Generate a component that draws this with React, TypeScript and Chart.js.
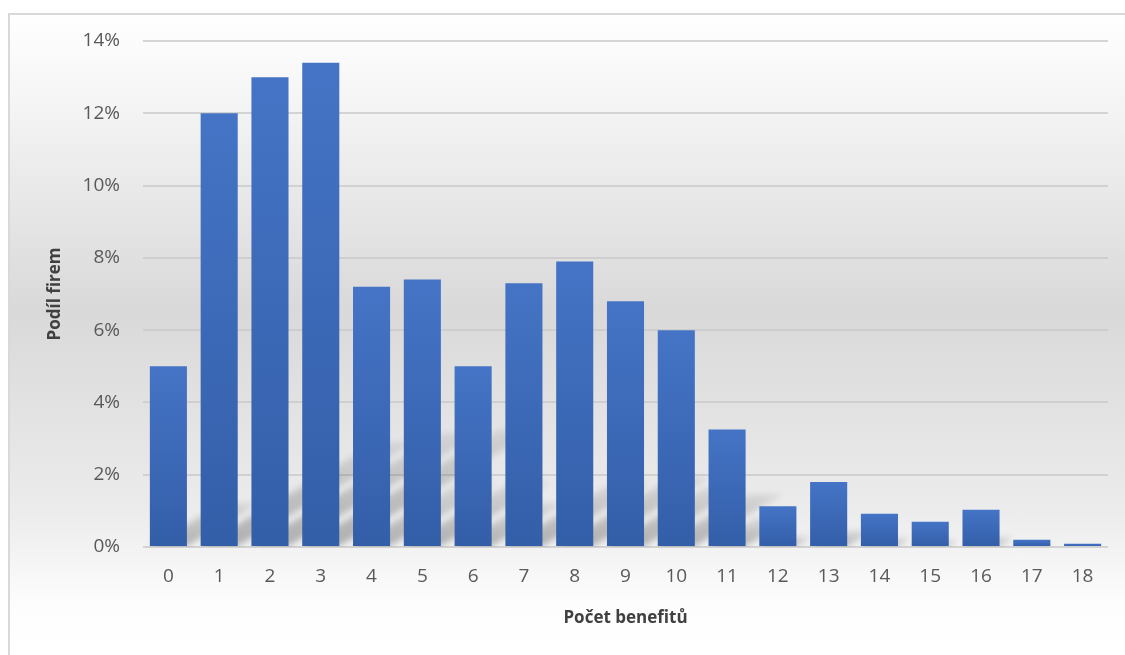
import React, { useEffect, useRef } from "react";
import { Chart, registerables } from "chart.js";

Chart.register(...registerables);

// Number of benefits offered (x) and share of companies (%) (y)
const categories: string[] = ["0", "1", "2", "3", "4", "5", "6", "7", "8", "9", "10", "11", "12", "13", "14", "15", "16", "17", "18"];
const shareOfFirms: number[] = [5.0, 12.0, 13.0, 13.4, 7.2, 7.4, 5.0, 7.3, 7.9, 6.8, 6.0, 3.25, 1.13, 1.8, 0.92, 0.7, 1.03, 0.2, 0.09];
const yTickLabels: string[] = ["0%", "2%", "4%", "6%", "8%", "10%", "12%", "14%"];

const xTitle = "Počet benefitů";
const yTitle = "Podíl firem";

const FONT = "'Open Sans', 'Noto Sans', sans-serif";

// Soft perspective shadow cast up and to the right behind each bar
const barShadow = {
  id: "barShadow",
  beforeDatasetsDraw(chart: any) {
    const { ctx, chartArea } = chart;
    const meta = chart.getDatasetMeta(0);
    ctx.save();
    ctx.beginPath();
    ctx.rect(chartArea.left, chartArea.top, chartArea.right - chartArea.left, chartArea.bottom - chartArea.top);
    ctx.clip();
    ctx.filter = "blur(3px)";
    meta.data.forEach((el: any) => {
      const { x, y, base, width } = el.getProps(["x", "y", "base", "width"], true);
      const h = (base - y) * 0.24;
      const dx = h * 1.7;
      const l = x - width / 2;
      const r = x + width / 2;
      const g = ctx.createLinearGradient(0, base, 0, base - h);
      g.addColorStop(0, "rgba(0,0,0,0.27)");
      g.addColorStop(1, "rgba(0,0,0,0.08)");
      ctx.fillStyle = g;
      ctx.beginPath();
      ctx.moveTo(l, base);
      ctx.lineTo(r, base);
      ctx.lineTo(r + dx, base - h);
      ctx.lineTo(l + dx, base - h);
      ctx.closePath();
      ctx.fill();
    });
    ctx.restore();
  },
};

function barFill(c: any) {
  const chart = c.chart;
  const ys = chart.scales && chart.scales.y;
  if (!ys || !chart.chartArea || typeof c.raw !== "number") return "#4472c4";
  const top = ys.getPixelForValue(c.raw);
  const bottom = ys.getPixelForValue(0);
  if (!isFinite(top) || !isFinite(bottom) || bottom - top < 1) return "#4472c4";
  const g = chart.ctx.createLinearGradient(0, top, 0, bottom);
  g.addColorStop(0, "#4574c6");
  g.addColorStop(1, "#335ea8");
  return g;
}

export default function App() {
  const canvasRef = useRef<HTMLCanvasElement | null>(null);

  useEffect(() => {
    if (!canvasRef.current) return;
    const chart = new Chart(canvasRef.current, {
      type: "bar",
      data: {
        labels: categories,
        datasets: [
          {
            label: yTitle,
            data: shareOfFirms,
            backgroundColor: barFill as any,
            borderWidth: 0,
            categoryPercentage: 1,
            barPercentage: 0.73,
          },
        ],
      },
      options: {
        animation: false,
        responsive: false,
        devicePixelRatio: 1,
        layout: { padding: { left: 0, right: 17, top: 26, bottom: 0 } },
        plugins: {
          legend: { display: false },
          tooltip: { enabled: false },
        },
        scales: {
          x: {
            grid: { display: false },
            border: { display: false },
            ticks: {
              color: "#595959",
              font: { family: FONT, size: 19 },
              padding: 10,
              maxRotation: 0,
            },
            title: {
              display: true,
              text: xTitle,
              color: "#404040",
              font: { family: FONT, size: 17, weight: "bold" },
              padding: { top: 0, bottom: 27 },
            },
            afterFit: (s: any) => {
              s.height = 108;
            },
          },
          y: {
            min: 0,
            max: 14,
            grid: {
              color: "rgba(200,200,200,0.75)",
              lineWidth: 2,
              drawTicks: true,
              tickLength: 23,
              tickColor: "rgba(0,0,0,0)",
            },
            border: { display: false },
            ticks: {
              stepSize: 2,
              color: "#595959",
              font: { family: FONT, size: 19 },
              padding: 0,
              callback: (_v: any, i: number) => yTickLabels[i],
            },
            title: {
              display: true,
              text: yTitle,
              color: "#404040",
              font: { family: FONT, size: 17, weight: "bold" },
              padding: { top: 35, bottom: 0 },
            },
            afterFit: (s: any) => {
              s.width = 133;
            },
          },
        },
      },
      plugins: [barShadow],
    });
    return () => chart.destroy();
  }, []);

  return (
    <div
      style={{
        position: "absolute",
        left: 8,
        top: 13,
        width: 1117,
        height: 642,
        boxSizing: "border-box",
        borderTop: "2px solid #d9d9d9",
        borderLeft: "2px solid #d9d9d9",
        background:
          "linear-gradient(to bottom, #ffffff 0%, #f6f6f6 12%, #d9d9d9 46%, #ececec 78%, #fdfdfd 92%, #ffffff 100%)",
      }}
    >
      <canvas ref={canvasRef} width={1115} height={640} style={{ display: "block" }} />
    </div>
  );
}
